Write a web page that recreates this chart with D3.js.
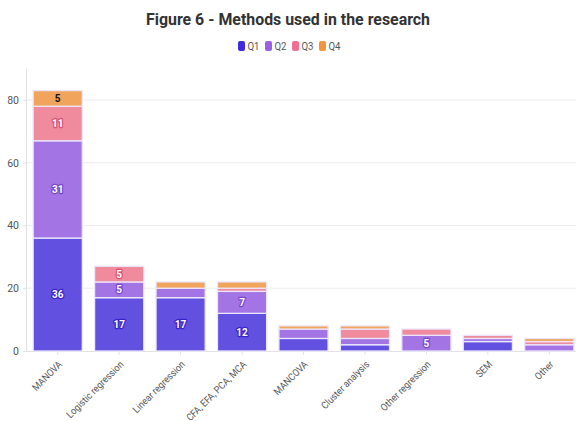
<!DOCTYPE html>
<html>
<head>
<meta charset="utf-8">
<script src="https://cdn.jsdelivr.net/npm/d3@7"></script>
<style>
  html, body { margin: 0; padding: 0; background: #fff; }
  svg { display: block; font-family: Roboto, "Noto Sans", sans-serif; }
</style>
</head>
<body>
<svg id="chart" width="576" height="421"></svg>
<script>
// Methods used in the research, counted per journal quartile
const categories = ["MANOVA", "Logistic regression", "Linear regression", "CFA, EFA, PCA, MCA",
  "MANCOVA", "Cluster analysis", "Other regression", "SEM", "Other"];
const seriesNames = ["Q1", "Q2", "Q3", "Q4"];
const q1 = [36, 17, 17, 12, 4, 2, 0, 3, 0];
const q2 = [31, 5, 3, 7, 3, 2, 5, 1, 2];
const q3 = [11, 5, 0, 1, 0, 3, 2, 1, 1];
const q4 = [5, 0, 2, 2, 1, 1, 0, 0, 1];
const yTicks = [0, 20, 40, 60, 80];

const legendColors = ["#3d2bd9", "#9b60e2", "#ef7090", "#f3933e"];
const barColors = ["#6251e1", "#a274e4", "#ef8b9d", "#f1a55c"];
const haloColors = ["#3a22c8", "#7a46cc", "#d9536f", "#f1a55c"];

const svg = d3.select("#chart");
const W = 576, H = 421;
const plotLeft = 27, plotRight = 580, plotBottom = 351, plotTop = 68.6;

const rows = categories.map((c, i) => ({ cat: c, Q1: q1[i], Q2: q2[i], Q3: q3[i], Q4: q4[i] }));
const stacked = d3.stack().keys(seriesNames)(rows);

const x = d3.scaleBand().domain(categories).range([plotLeft, plotRight]).paddingInner(0.2).paddingOuter(0.1);
const y = d3.scaleLinear().domain([0, 90]).range([plotBottom, plotTop]);

// title
svg.append("text")
  .attr("x", W / 2).attr("y", 25)
  .attr("text-anchor", "middle")
  .attr("font-size", 17).attr("font-weight", 700).attr("fill", "#333")
  .attr("textLength", 284).attr("lengthAdjust", "spacingAndGlyphs")
  .text("Figure 6 - Methods used in the research");

// legend
const legendX = [238, 265, 292, 319];
const lg = svg.append("g");
seriesNames.forEach((s, i) => {
  const g = lg.append("g").attr("transform", `translate(${legendX[i]},41)`);
  g.append("rect").attr("width", 7).attr("height", 10).attr("rx", 2).attr("fill", legendColors[i]);
  g.append("text").attr("x", 9.5).attr("y", 9).attr("font-size", 10.5).attr("fill", "#555")
    .attr("textLength", 12).attr("lengthAdjust", "spacingAndGlyphs").text(s);
});

// gridlines
svg.append("g").selectAll("line").data(yTicks.filter(t => t > 0)).join("line")
  .attr("x1", plotLeft).attr("x2", W)
  .attr("y1", d => y(d)).attr("y2", d => y(d))
  .attr("stroke", "#ececec").attr("stroke-width", 1);

// y axis
const yAxis = svg.append("g").attr("transform", `translate(${plotLeft},0)`)
  .call(d3.axisLeft(y).tickValues(yTicks).tickSize(4).tickPadding(4));
yAxis.select(".domain").attr("stroke", "#e2e2e2").attr("d", `M-0.5,${plotBottom}V${plotTop}`);
yAxis.selectAll(".tick line").attr("stroke", "#e2e2e2");
yAxis.selectAll(".tick text").attr("font-size", 10.5).attr("fill", "#555")
  .attr("font-family", "Roboto, sans-serif");

// x axis
const xAxis = svg.append("g").attr("transform", `translate(0,${plotBottom})`)
  .call(d3.axisBottom(x).tickSize(4).tickPadding(6));
xAxis.select(".domain").attr("stroke", "#e2e2e2").attr("d", `M${plotLeft},0.5H${W}`);
xAxis.selectAll(".tick line").attr("stroke", "#e2e2e2");
xAxis.selectAll(".tick text")
  .attr("font-size", 10).attr("fill", "#555").attr("font-family", "Roboto, sans-serif")
  .attr("text-anchor", "end").attr("dy", null).attr("y", null)
  .attr("transform", "translate(5,14) rotate(-45) scale(0.9,1)");

// stacked bars
const layers = svg.append("g").selectAll("g").data(stacked).join("g")
  .attr("fill", (d, i) => barColors[i]);
layers.selectAll("rect").data(d => d.filter(s => s[1] - s[0] > 0)).join("rect")
  .attr("x", d => x(d.data.cat))
  .attr("width", x.bandwidth())
  .attr("y", d => y(d[1]))
  .attr("height", d => y(d[0]) - y(d[1]))
  .attr("stroke", "#ece6fb").attr("stroke-width", 1.3);

// value labels on segments of 5 or more
const lbl = svg.append("g");
stacked.forEach((layer, i) => {
  layer.forEach(s => {
    const v = s[1] - s[0];
    if (v < 5) return;
    lbl.append("text")
      .attr("x", x(s.data.cat) + x.bandwidth() / 2)
      .attr("y", (y(s[0]) + y(s[1])) / 2)
      .attr("dy", "0.35em")
      .attr("text-anchor", "middle")
      .attr("font-size", 10).attr("font-weight", 700)
      .attr("fill", i === 3 ? "#111" : "#fff")
      .attr("stroke", haloColors[i]).attr("stroke-width", 2.5)
      .attr("stroke-linejoin", "round")
      .attr("paint-order", "stroke")
      .text(v);
  });
});
</script>
</body>
</html>
